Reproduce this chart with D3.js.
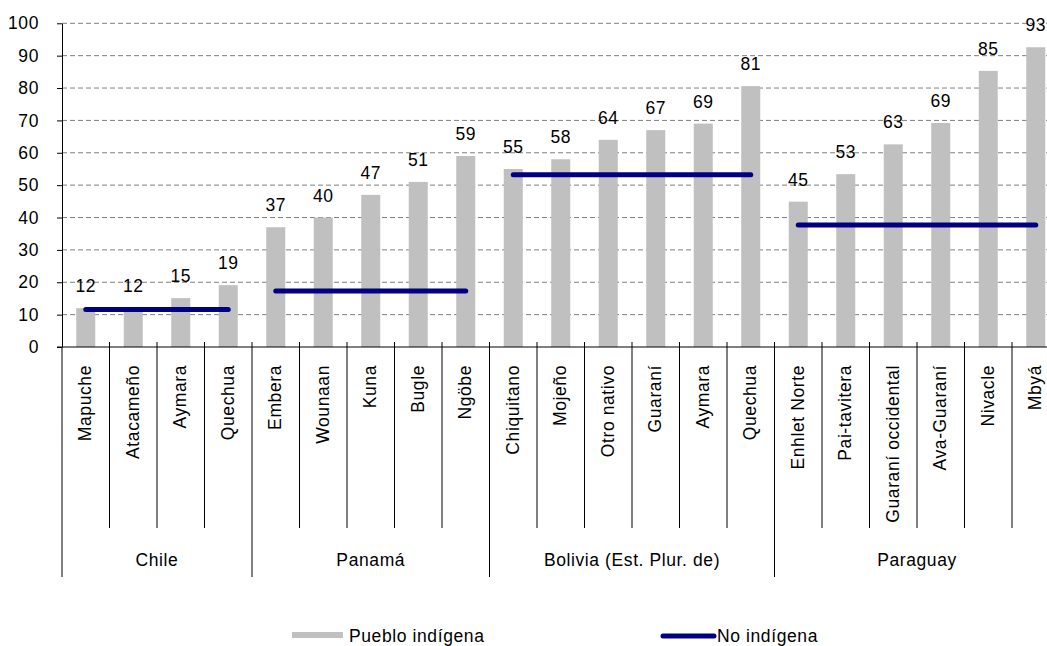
<!DOCTYPE html>
<html>
<head>
<meta charset="utf-8">
<script src="https://cdn.jsdelivr.net/npm/d3@7"></script>
<style>
  body { margin: 0; background: #fff; }
  text { font-family: "Liberation Sans", Arial, sans-serif; font-size: 17.5px; letter-spacing: 0.6px; fill: #000; }
</style>
</head>
<body>
<div id="chart"></div>
<script>
// datos
const categorias = ["Mapuche", "Atacameño", "Aymara", "Quechua",
  "Embera", "Wounaan", "Kuna", "Bugle", "Ngöbe",
  "Chiquitano", "Mojeño", "Otro nativo", "Guaraní", "Aymara", "Quechua",
  "Enhlet Norte", "Pai-tavitera", "Guaraní occidental", "Ava-Guaraní", "Nivacle", "Mbyá"];
const paises = ["Chile", "Panamá", "Bolivia (Est. Plur. de)", "Paraguay"];
const pueblosPorPais = [4, 5, 6, 6];
const puebloIndigena = [12, 12, 15.1, 19.1,
  37, 40, 47, 51, 59,
  55, 58, 64, 67, 69, 80.6,
  44.9, 53.4, 62.6, 69.2, 85.3, 92.6];
const noIndigena = [11.6, 17.3, 53.2, 37.7];
const yTicks = [0, 10, 20, 30, 40, 50, 60, 70, 80, 90, 100];

const width = 1047, height = 646;
const mLeft = 62, mTop = 23.3, mBottom = 347;
const step = 47.5;

const svg = d3.select("#chart").append("svg")
  .attr("width", width)
  .attr("height", height);

const x = d3.scaleBand()
  .domain(d3.range(categorias.length))
  .range([mLeft, mLeft + step * categorias.length])
  .padding(0);

const y = d3.scaleLinear().domain([0, 100]).range([mBottom, mTop]);

// grille
svg.append("g")
  .selectAll("line")
  .data(yTicks.slice(1))
  .join("line")
  .attr("x1", mLeft).attr("x2", width)
  .attr("y1", d => y(d)).attr("y2", d => y(d))
  .attr("stroke", "#808080")
  .attr("stroke-width", 1)
  .attr("stroke-dasharray", "5,3");

// barres
const bw = x.bandwidth() * 0.4;
svg.append("g")
  .selectAll("rect")
  .data(puebloIndigena)
  .join("rect")
  .attr("x", (d, i) => x(i) + (x.bandwidth() - bw) / 2)
  .attr("y", d => y(d))
  .attr("width", bw)
  .attr("height", d => y(0) - y(d))
  .attr("fill", "#c0c0c0");

// étiquettes
svg.append("g")
  .selectAll("text")
  .data(puebloIndigena)
  .join("text")
  .attr("x", (d, i) => x(i) + x.bandwidth() / 2)
  .attr("y", d => y(d) - 16)
  .attr("text-anchor", "middle")
  .text(d => d3.format(".0f")(d));

// lignes no indigena
const debut = d3.cumsum([0].concat(pueblosPorPais));
svg.append("g")
  .selectAll("line")
  .data(noIndigena)
  .join("line")
  .attr("x1", (d, i) => x(debut[i]) + x.bandwidth() / 2)
  .attr("x2", (d, i) => x(debut[i + 1] - 1) + x.bandwidth() / 2)
  .attr("y1", d => y(d)).attr("y2", d => y(d))
  .attr("stroke", "#000080")
  .attr("stroke-width", 5)
  .attr("stroke-linecap", "round");

// axe y
const yAxis = svg.append("g")
  .attr("transform", `translate(${mLeft},0)`)
  .call(d3.axisLeft(y).tickValues(yTicks).tickSize(5).tickSizeOuter(0).tickPadding(18));
yAxis.select(".domain").attr("stroke", "#000");
yAxis.selectAll(".tick line").attr("stroke", "#000");
yAxis.selectAll("text").attr("font-size", null).attr("font-family", null).attr("fill", "#000");

// axe x
const axisX = svg.append("g");
axisX.append("line")
  .attr("x1", mLeft - 5).attr("x2", width)
  .attr("y1", mBottom).attr("y2", mBottom)
  .attr("stroke", "#000");

// séparateurs de catégories
axisX.selectAll("line.sep")
  .data(d3.range(1, categorias.length))
  .join("line")
  .attr("class", "sep")
  .attr("x1", i => x(i)).attr("x2", i => x(i))
  .attr("y1", mBottom - 5)
  .attr("y2", i => debut.includes(i) ? 577 : 528)
  .attr("stroke", "#000")
  .attr("stroke-width", 1);
axisX.append("line")
  .attr("x1", mLeft).attr("x2", mLeft)
  .attr("y1", mBottom).attr("y2", 577)
  .attr("stroke", "#000");

axisX.selectAll("text.cat")
  .data(categorias)
  .join("text")
  .attr("class", "cat")
  .attr("transform", (d, i) => `translate(${x(i) + x.bandwidth() / 2},365) rotate(-90)`)
  .attr("dy", "0.32em")
  .attr("text-anchor", "end")
  .text(d => d);

axisX.selectAll("text.pays")
  .data(paises)
  .join("text")
  .attr("class", "pays")
  .attr("x", (d, i) => (x(debut[i]) + x(debut[i + 1] - 1) + x.bandwidth()) / 2)
  .attr("y", 566)
  .attr("text-anchor", "middle")
  .text(d => d);

// légende
const legende = svg.append("g");
legende.append("rect")
  .attr("x", 292).attr("y", 632).attr("width", 51).attr("height", 6)
  .attr("fill", "#c0c0c0");
legende.append("text").attr("x", 349).attr("y", 642).text("Pueblo indígena");
legende.append("line")
  .attr("x1", 663).attr("x2", 714).attr("y1", 636).attr("y2", 636)
  .attr("stroke", "#000080").attr("stroke-width", 5).attr("stroke-linecap", "round");
legende.append("text").attr("x", 717).attr("y", 642).text("No indígena");
</script>
</body>
</html>
